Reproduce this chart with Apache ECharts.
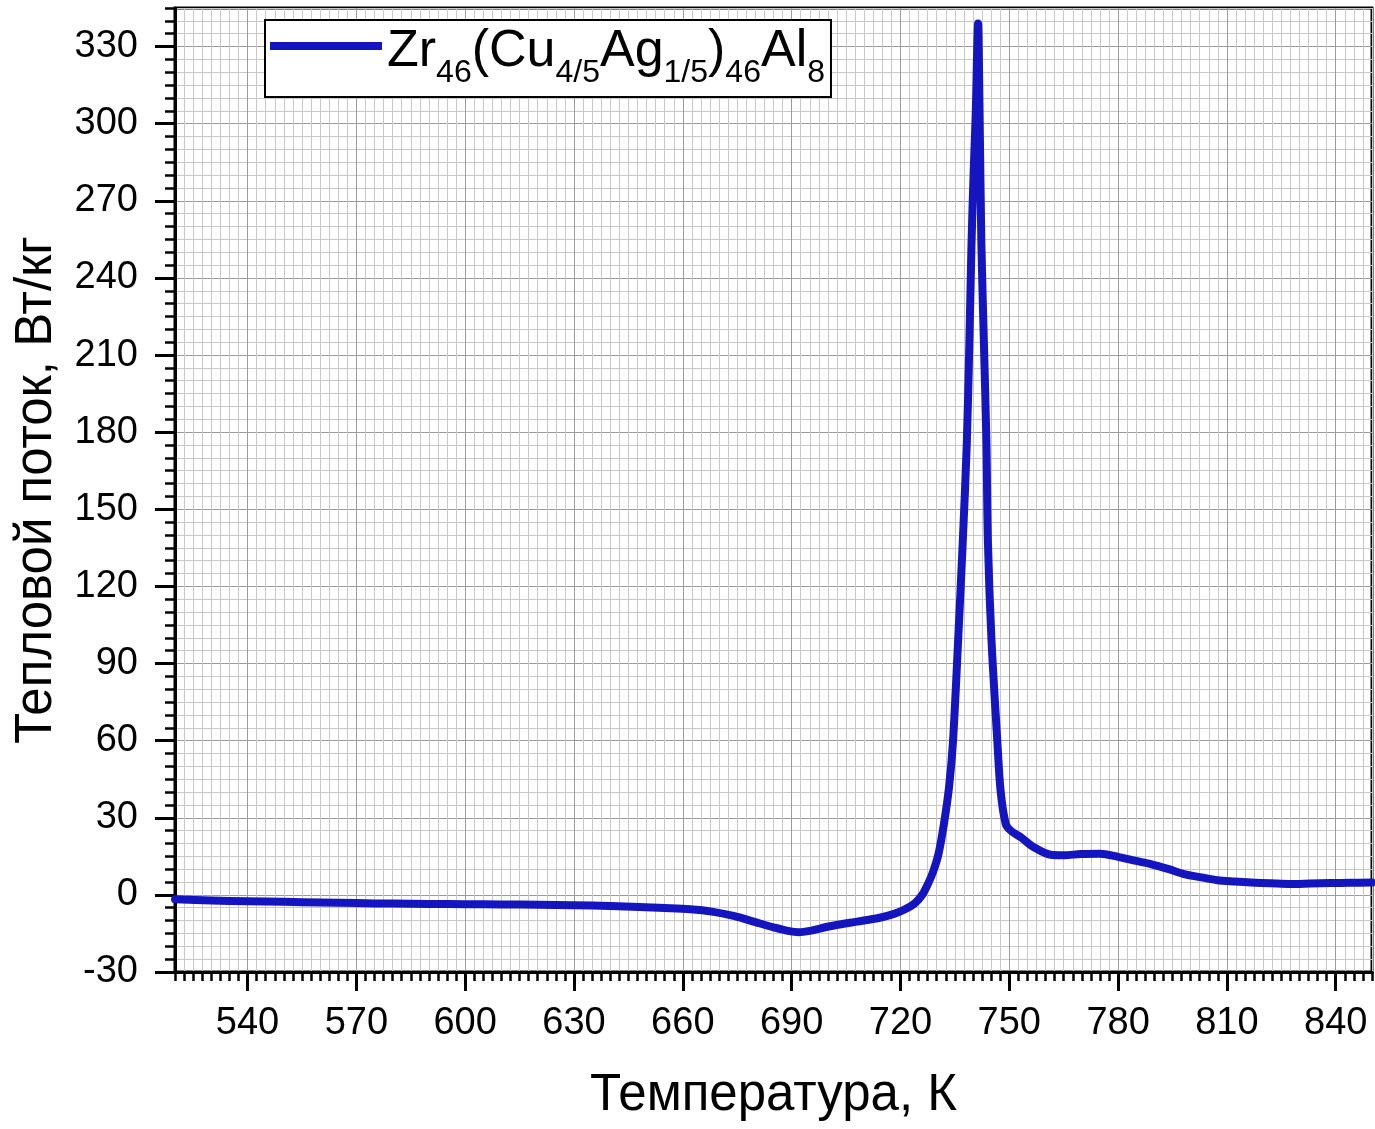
<!DOCTYPE html>
<html>
<head>
<meta charset="utf-8">
<script src="https://cdn.jsdelivr.net/npm/echarts@6/dist/echarts.min.js"></script>
<style>
  html, body { margin: 0; padding: 0; background: #fff; }
  #chart { width: 1375px; height: 1129px; }
</style>
</head>
<body>
<div id="chart"></div>
<script>
// DSC heat-flow curve, Zr46(Cu4/5Ag1/5)46Al8
const temperature = [
  520, 530, 540, 550, 560, 570, 580, 590, 600, 610, 620, 630, 640, 648, 655,
  662, 668, 674, 680, 685, 689, 692, 695, 698, 702, 708, 714, 718, 721, 724,
  726, 727.5, 729, 730.5, 732, 733.4, 734.5, 735.9, 737.2, 738.3, 739, 739.6,
  740.2, 740.8, 741.1, 741.4, 741.6, 741.8, 742.3, 743.0, 743.7, 744.1, 745.1,
  746.7, 747.6, 749.0, 750.4, 753.2, 756.8, 761.4, 765, 769.7, 775, 780, 785,
  789, 794, 798.2, 803, 807.4, 812, 816.6, 822, 827.6, 833, 838.6, 844, 850
];
const heatFlow = [
  -1.7, -2.2, -2.5, -2.7, -3.0, -3.2, -3.4, -3.5, -3.6, -3.7, -3.8, -4.0, -4.3, -4.7, -5.1,
  -5.6, -6.5, -8.2, -10.6, -12.6, -14.0, -14.5, -14.0, -13.0, -11.8, -10.4, -9.0, -7.5, -5.8, -3.2,
  0.0, 4.0, 9.0, 16.0, 27.7, 42, 60, 99, 138, 176, 215, 254,
  282, 306, 326, 339, 328, 306, 254, 215, 176, 138, 99,
  60, 40.6, 27.7, 25.0, 22.4, 18.5, 15.6, 15.4, 15.9, 16.0, 14.8, 13.2,
  12.0, 10.0, 8.1, 6.8, 5.7, 5.2, 4.8, 4.5, 4.2, 4.4, 4.6, 4.7, 4.8
];

// Tick labels
const xLabels = [540, 570, 600, 630, 660, 690, 720, 750, 780, 810, 840];
const yLabels = [-30, 0, 30, 60, 90, 120, 150, 180, 210, 240, 270, 300, 330];

const seriesName = 'Zr46(Cu4/5Ag1/5)46Al8';
const xTitle = 'Температура, К';
const yTitle = 'Тепловой поток, Вт/кг';

const FONT = '"Liberation Sans", Arial, sans-serif';
const lineColor = '#1515bf';

const points = temperature.map((t, i) => [t, heatFlow[i]]);

const chart = echarts.init(document.getElementById('chart'), null, { renderer: 'canvas' });

const xRange = { min: 520, max: 850 };
const yRange = { min: -30, max: 345 };

chart.setOption({
  animation: false,
  backgroundColor: '#fff',
  grid: {
    left: 175, top: 8, width: 1197, height: 964,
    show: true, borderColor: '#000', borderWidth: 3, backgroundColor: '#fff'
  },
  legend: {
    left: 265, top: 20,
    padding: [0, 6, 8, 5],
    itemWidth: 112, itemHeight: 8, itemGap: 10,
    backgroundColor: '#fff', borderColor: '#000', borderWidth: 2,
    data: [{ name: seriesName, icon: 'rect' }],
    formatter: () =>
      '{n|Zr}{s|46}{n|(Cu}{s|4/5}{n|Ag}{s|1/5}{n|)}{s|46}{n|Al}{s|8}',
    textStyle: {
      fontFamily: FONT, color: '#000', padding: [0, 0, 0, 0],
      rich: {
        n: { fontFamily: FONT, fontSize: 52, color: '#000', lineHeight: 52, verticalAlign: 'top', padding: [6, 0, 6, 0] },
        s: { fontFamily: FONT, fontSize: 32, color: '#000', lineHeight: 32, verticalAlign: 'top', padding: [37, 0, 0, 0] }
      }
    }
  },
  xAxis: [
    {
      type: 'value', position: 'bottom', ...xRange, interval: 2.5,
      name: xTitle, nameLocation: 'middle', nameGap: 98,
      nameTextStyle: { fontFamily: FONT, fontSize: 51, color: '#000' },
      axisLine: { show: true, onZero: false, lineStyle: { color: '#000', width: 3 } },
      axisTick: { show: true, inside: false, length: 9, lineStyle: { color: '#000', width: 2.5 } },
      axisLabel: {
        margin: 33, fontFamily: FONT, fontSize: 38, color: '#000',
        formatter: v => (xLabels.indexOf(Math.round(v * 100) / 100) >= 0 ? String(v) : '')
      },
      splitLine: { show: true, lineStyle: { color: '#c8c8c8', width: 1 } }
    },
    {
      type: 'value', position: 'bottom', ...xRange, interval: 2.5,
      axisLine: { show: false, onZero: false },
      axisTick: { show: true, customValues: xLabels, length: 19, lineStyle: { color: '#000', width: 3 } },
      axisLabel: { show: false },
      splitLine: { show: true, lineStyle: { color: '#9c9c9c', width: 1 } }
    }
  ],
  yAxis: [
    {
      type: 'value', position: 'left', ...yRange, interval: 5,
      name: yTitle, nameLocation: 'middle', nameGap: 113,
      nameTextStyle: { fontFamily: FONT, fontSize: 51, color: '#000' },
      axisLine: { show: true, onZero: false, lineStyle: { color: '#000', width: 3 } },
      axisTick: { show: true, inside: false, length: 10, lineStyle: { color: '#000', width: 2.5 } },
      axisLabel: {
        margin: 37, fontFamily: FONT, fontSize: 38, color: '#000',
        formatter: v => (yLabels.indexOf(Math.round(v * 100) / 100) >= 0 ? String(v) : '')
      },
      splitLine: { show: true, lineStyle: { color: '#c8c8c8', width: 1 } }
    },
    {
      type: 'value', position: 'left', ...yRange, interval: 5,
      axisLine: { show: false, onZero: false },
      axisTick: { show: true, customValues: yLabels, length: 20, lineStyle: { color: '#000', width: 3 } },
      axisLabel: { show: false },
      splitLine: { show: true, lineStyle: { color: '#9c9c9c', width: 1 } }
    }
  ],
  series: [
    {
      name: seriesName,
      type: 'line',
      xAxisIndex: 0, yAxisIndex: 0,
      data: points,
      showSymbol: false, symbol: 'none',
      smooth: 0.3,
      lineStyle: { color: lineColor, width: 8, cap: 'round', join: 'round' },
      itemStyle: { color: lineColor },
      z: 5
    }
  ]
});
</script>
</body>
</html>
